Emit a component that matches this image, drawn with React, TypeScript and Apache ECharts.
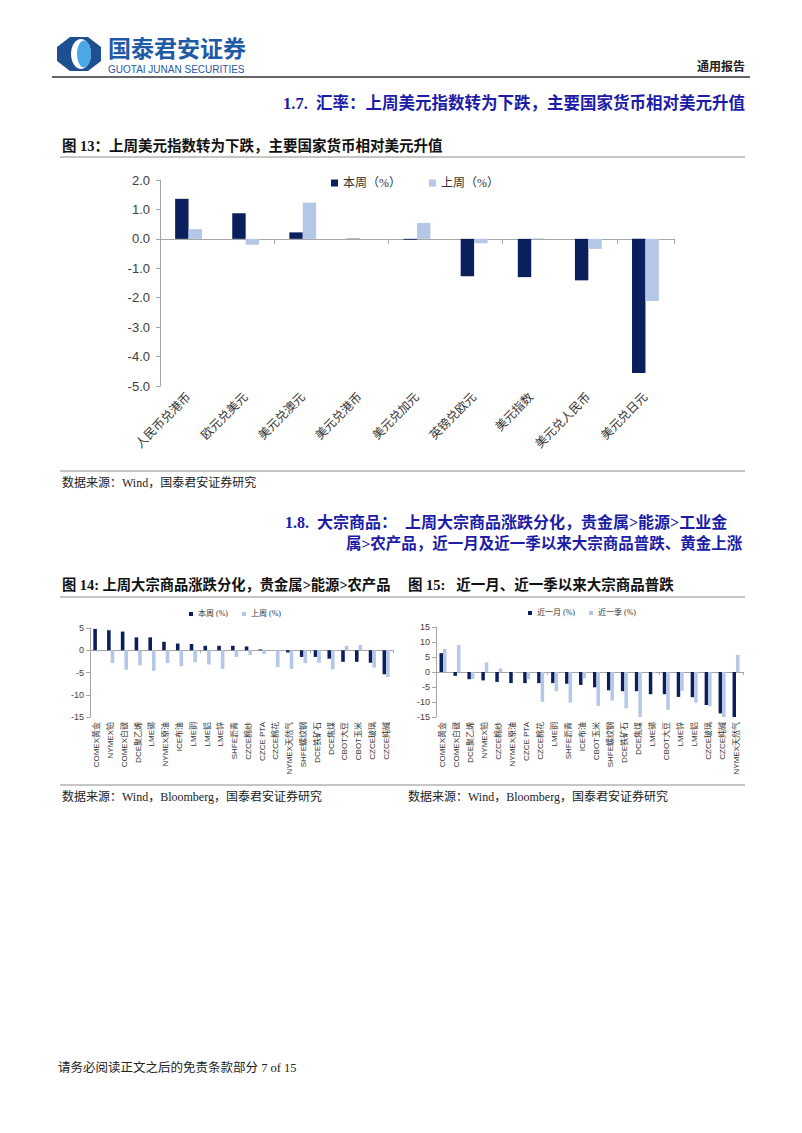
import React, { useEffect, useRef } from 'react';
import * as echarts from 'echarts';

// ---------- Data ----------
const fxCategories = ['人民币兑港币', '欧元兑美元', '美元兑澳元', '美元兑港币', '美元兑加元', '英镑兑欧元', '美元指数', '美元兑人民币', '美元兑日元'];
const fxThisWeek = [1.36, 0.87, 0.22, 0.01, -0.03, -1.27, -1.3, -1.41, -4.56];
const fxLastWeek = [0.33, -0.2, 1.23, 0.0, 0.54, -0.15, 0.02, -0.34, -2.11];
const fxYTicks = { min: -5, max: 2, interval: 1 };

const cmdWeekCategories = ['COMEX黄金', 'NYMEX铂', 'COMEX白银', 'DCE聚乙烯', 'LME锡', 'NYMEX原油', 'ICE布油', 'LME铜', 'LME铝', 'LME锌', 'SHFE沥青', 'CZCE棉纱', 'CZCE PTA', 'CZCE棉花', 'NYMEX天然气', 'SHFE螺纹钢', 'DCE铁矿石', 'DCE焦煤', 'CBOT大豆', 'CBOT玉米', 'CZCE玻璃', 'CZCE纯碱'];
const cmdThisWeek = [4.8, 4.5, 4.2, 2.9, 2.9, 1.9, 1.5, 1.4, 1.0, 1.0, 1.0, 0.85, 0.2, 0.0, -0.5, -1.5, -1.5, -1.9, -2.6, -2.6, -2.8, -5.4];
const cmdLastWeek = [-0.3, -2.9, -4.4, -3.4, -4.6, -2.9, -3.6, -2.7, -3.2, -4.2, -1.5, -1.1, -0.8, -3.8, -4.2, -2.9, -2.8, -4.3, 1.0, 1.2, -3.9, -6.0];
const cmdWeekYTicks = { min: -15, max: 5, interval: 5 };

const cmdMonthCategories = ['COMEX黄金', 'COMEX白银', 'DCE聚乙烯', 'NYMEX铂', 'CZCE棉纱', 'NYMEX原油', 'CZCE PTA', 'CZCE棉花', 'LME铜', 'SHFE沥青', 'ICE布油', 'CBOT玉米', 'SHFE螺纹钢', 'DCE铁矿石', 'DCE焦煤', 'LME锡', 'CBOT大豆', 'LME锌', 'LME铝', 'CZCE玻璃', 'CZCE纯碱', 'NYMEX天然气'];
const cmdMonth = [6.3, -1.3, -2.4, -2.8, -3.3, -3.7, -3.7, -3.7, -3.7, -3.9, -4.3, -5.1, -6.1, -6.4, -6.4, -7.4, -7.4, -8.3, -8.4, -11.0, -13.8, -15.3];
const cmdQuarter = [7.7, 9.0, -2.3, 3.2, 1.2, -0.3, -2.4, -9.9, -6.4, -10.2, -2.1, -11.3, -9.5, -12.1, -15.2, -0.3, -12.6, -6.3, -10.2, -11.4, -15.2, 5.7];
const cmdMonthYTicks = { min: -15, max: 15, interval: 5 };

// ---------- Styles ----------
const NAVY = '#0b1f5c';
const LIGHT = '#b4c7e7';
const BLUE_TITLE = '#1c1ca8';
const AXIS = '#a6a6a6';
const SANS = '"Liberation Sans", Arial, "Noto Sans CJK SC", sans-serif';
const CJK = '"Liberation Serif", "Noto Sans CJK SC", serif';

function text(left: number, top: number, str: string, font: string, fill = '#111', lineHeight?: number) {
  const style: any = { text: str, font, fill };
  if (lineHeight) style.lineHeight = lineHeight;
  return { type: 'text', left, top, silent: true, style };
}
function rtext(right: number, top: number, str: string, font: string, fill = '#111') {
  return { type: 'text', right, top, silent: true, style: { text: str, font, fill } };
}
function hline(x1: number, x2: number, y: number, stroke = '#8c8c8c', w = 1) {
  return { type: 'line', silent: true, shape: { x1, y1: y, x2, y2: y }, style: { stroke, lineWidth: w } };
}

function zeroAxis(gridIndex: number, data: string[], tickLen: number) {
  return {
    gridIndex,
    type: 'category',
    data,
    position: 'top',
    axisLine: { show: true, onZero: true, lineStyle: { color: AXIS, width: 1 } },
    axisTick: { show: true, inside: true, length: tickLen, lineStyle: { color: AXIS } },
    axisLabel: { show: false },
    splitLine: { show: false },
  };
}
function labelAxis(gridIndex: number, data: string[], rotate: number, fontSize: number, margin: number, fontFamily: string) {
  return {
    gridIndex,
    type: 'category',
    data,
    position: 'bottom',
    axisLine: { show: false, onZero: false },
    axisTick: { show: false },
    axisLabel: { interval: 0, rotate, fontSize, margin, color: '#333', fontFamily },
    splitLine: { show: false },
  };
}
function valueAxis(gridIndex: number, t: { min: number; max: number; interval: number }, fontSize: number, decimals: number, margin: number) {
  return {
    gridIndex,
    type: 'value',
    min: t.min,
    max: t.max,
    interval: t.interval,
    axisLine: { show: true, lineStyle: { color: AXIS } },
    axisTick: { show: true, length: 4, lineStyle: { color: AXIS } },
    splitLine: { show: false },
    axisLabel: {
      fontSize,
      margin,
      color: '#404040',
      fontFamily: SANS,
      formatter: (v: number) => v.toFixed(decimals),
    },
  };
}

const logo = {
  type: 'group',
  left: 57,
  top: 37,
  children: [
    {
      type: 'polygon',
      shape: { points: [[13, 0], [31, 0], [44, 10], [44, 24], [31, 34], [13, 34], [0, 24], [0, 10]] },
      style: { fill: '#1d4f91' },
    },
    { type: 'ellipse', shape: { cx: 24, cy: 17, rx: 10, ry: 15 }, style: { fill: '#ffffff' } },
    { type: 'ellipse', shape: { cx: 27, cy: 17, rx: 7, ry: 13.5 }, style: { fill: '#4aa8e6' } },
  ],
};

const option: any = {
  animation: false,
  backgroundColor: '#ffffff',
  graphic: [
    logo,
    text(108, 35, '国泰君安证券', 'bold 23px "Noto Sans CJK SC", sans-serif', '#1f5aa6', 23),
    text(108, 64, 'GUOTAI JUNAN SECURITIES', '10px "Liberation Sans", Arial, sans-serif', '#1f5aa6', 10),
    rtext(57, 61, '通用报告', 'bold 12px ' + CJK, '#222'),
    hline(52, 750, 77, '#333', 1.5),
    rtext(57, 95, '1.7.  汇率：上周美元指数转为下跌，主要国家货币相对美元升值', 'bold 16.5px ' + CJK, BLUE_TITLE),
    text(62, 139, '图 13：上周美元指数转为下跌，主要国家货币相对美元升值', 'bold 14.5px ' + CJK, '#111'),
    hline(60, 745, 157),
    hline(60, 745, 471),
    text(62, 477, '数据来源：Wind，国泰君安证券研究', '12px ' + CJK, '#222'),
    text(285, 514, '1.8.  大宗商品：  上周大宗商品涨跌分化，贵金属>能源>工业金', 'bold 16px ' + CJK, BLUE_TITLE),
    text(346, 536, '属>农产品，近一月及近一季以来大宗商品普跌、黄金上涨', 'bold 15.5px ' + CJK, BLUE_TITLE),
    text(62, 578, '图 14: 上周大宗商品涨跌分化，贵金属>能源>农产品', 'bold 14.3px ' + CJK, '#111'),
    text(408, 578, '图 15:   近一月、近一季以来大宗商品普跌', 'bold 14.5px ' + CJK, '#111'),
    hline(60, 745, 597),
    hline(60, 745, 785),
    text(62, 791, '数据来源：Wind，Bloomberg，国泰君安证券研究', '12px ' + CJK, '#222'),
    text(408, 791, '数据来源：Wind，Bloomberg，国泰君安证券研究', '12px ' + CJK, '#222'),
    text(58, 1062, '请务必阅读正文之后的免责条款部分 7 of 15', '12.5px ' + CJK, '#222'),
  ],
  legend: [
    {
      data: ['本周（%）', '上周（%）'],
      left: 326,
      top: 172,
      icon: 'rect',
      itemWidth: 7,
      itemHeight: 7,
      itemGap: 28,
      textStyle: { fontSize: 12, color: '#333', fontFamily: CJK },
    },
    {
      data: ['本周 (%)', '上周 (%)'],
      left: 184,
      top: 605,
      icon: 'rect',
      itemWidth: 4,
      itemHeight: 4,
      itemGap: 14,
      textStyle: { fontSize: 8, color: '#333', fontFamily: CJK },
    },
    {
      data: ['近一月 (%)', '近一季 (%)'],
      left: 523,
      top: 604,
      icon: 'rect',
      itemWidth: 4,
      itemHeight: 4,
      itemGap: 14,
      textStyle: { fontSize: 8, color: '#333', fontFamily: CJK },
    },
  ],
  grid: [
    { left: 160, top: 180, width: 514, height: 206, containLabel: false },
    { left: 90, top: 628, width: 303, height: 89, containLabel: false },
    { left: 436, top: 627, width: 307, height: 90, containLabel: false },
  ],
  xAxis: [
    labelAxis(0, fxCategories, 45, 12, 9, CJK),
    zeroAxis(0, fxCategories, 5),
    labelAxis(1, cmdWeekCategories, 90, 8, 5, SANS),
    zeroAxis(1, cmdWeekCategories, 3),
    labelAxis(2, cmdMonthCategories, 90, 8, 5, SANS),
    zeroAxis(2, cmdMonthCategories, 3),
  ],
  yAxis: [
    valueAxis(0, fxYTicks, 13, 1, 10),
    valueAxis(1, cmdWeekYTicks, 9, 0, 6),
    valueAxis(2, cmdMonthYTicks, 9, 0, 6),
  ],
  series: [
    { name: '本周（%）', type: 'bar', xAxisIndex: 0, yAxisIndex: 0, data: fxThisWeek, itemStyle: { color: NAVY }, barGap: '0%', barCategoryGap: '53%' },
    { name: '上周（%）', type: 'bar', xAxisIndex: 0, yAxisIndex: 0, data: fxLastWeek, itemStyle: { color: LIGHT }, barGap: '0%', barCategoryGap: '53%' },
    { name: '本周 (%)', type: 'bar', xAxisIndex: 2, yAxisIndex: 1, data: cmdThisWeek, itemStyle: { color: NAVY }, barGap: '0%', barCategoryGap: '48%' },
    { name: '上周 (%)', type: 'bar', xAxisIndex: 2, yAxisIndex: 1, data: cmdLastWeek, itemStyle: { color: LIGHT }, barGap: '0%', barCategoryGap: '48%' },
    { name: '近一月 (%)', type: 'bar', xAxisIndex: 4, yAxisIndex: 2, data: cmdMonth, itemStyle: { color: NAVY }, barGap: '0%', barCategoryGap: '50%' },
    { name: '近一季 (%)', type: 'bar', xAxisIndex: 4, yAxisIndex: 2, data: cmdQuarter, itemStyle: { color: LIGHT }, barGap: '0%', barCategoryGap: '50%' },
  ],
};

export default function App() {
  const ref = useRef<HTMLDivElement>(null);
  useEffect(() => {
    if (!ref.current) return;
    const chart = echarts.init(ref.current, null, { renderer: 'svg' });
    chart.setOption(option);
    return () => chart.dispose();
  }, []);
  return (
    <div
      ref={ref}
      style={{ position: 'absolute', left: 0, top: 0, width: 802, height: 1133, background: '#ffffff' }}
    />
  );
}
